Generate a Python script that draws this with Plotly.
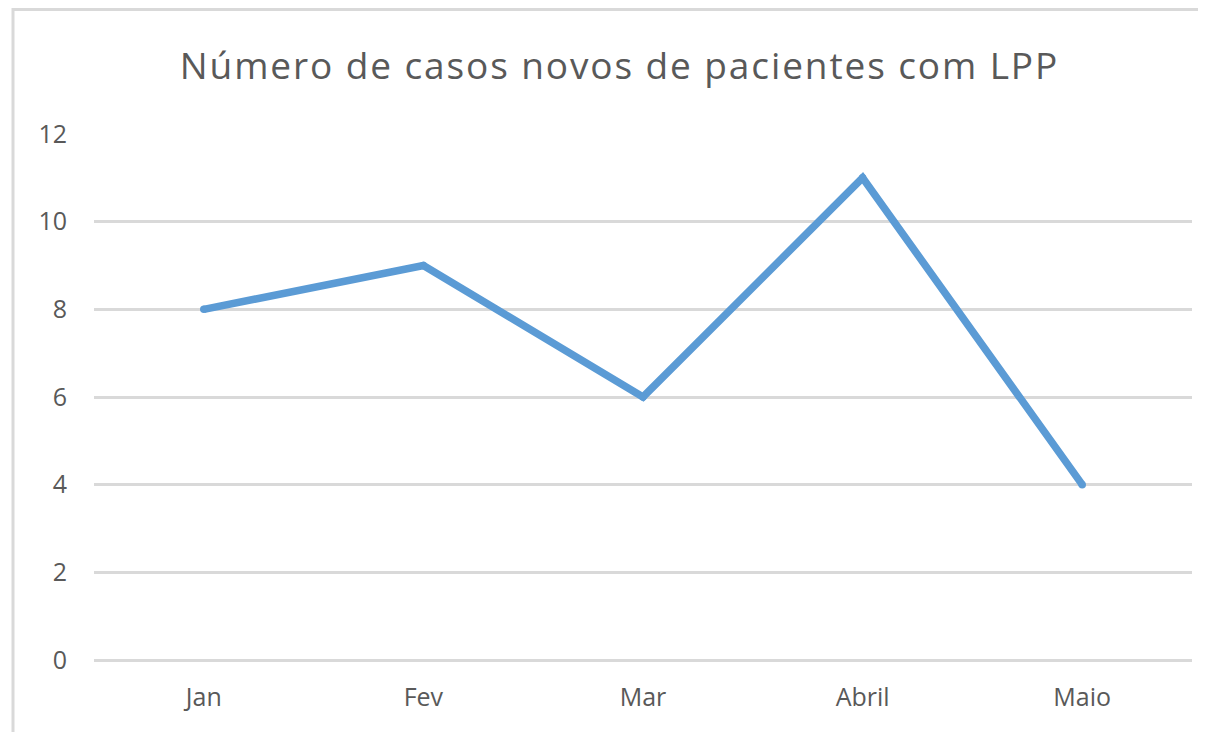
import plotly.graph_objects as go

months = ["Jan", "Fev", "Mar", "Abril", "Maio"]
cases = [8, 9, 6, 11, 4]
y_ticks = [0, 2, 4, 6, 8, 10, 12]
title_text = "Número de casos novos de pacientes com LPP"

OFF = 8  # default body margin of the page
W, H = 1206 - OFF, 732 - OFF
# target plot area in viewport pixels: x 94..1192, y 134..660
L, R, T, B = 94 - OFF, 1206 - 1192, 134 - OFF, 732 - 660
pw, ph = W - L - R, H - T - B

def px_x(p):  # viewport px -> paper x
    return (p - OFF - L) / pw

def px_y(p):  # viewport px -> paper y
    return (H - B - (p - OFF)) / ph

LINE_COLOR = "#5B9BD5"
LW = 7.5

fig = go.Figure()
fig.add_trace(go.Scatter(
    x=months, y=cases, mode="lines+markers",
    line=dict(color=LINE_COLOR, width=LW),
    marker=dict(color=LINE_COLOR, size=LW, line=dict(width=0)),
    hoverinfo="x+y",
))

font_family = "Open Sans, sans-serif"

fig.update_layout(
    width=W, height=H,
    margin=dict(l=L, r=R, t=T, b=B),
    paper_bgcolor="white", plot_bgcolor="white",
    showlegend=False,
    title=dict(text='<span style="letter-spacing:1.9px">' + title_text + '</span>',
               xref="paper", x=px_x(619.5), xanchor="center",
               yref="container", y=1 - (66 - OFF) / H, yanchor="middle",
               font=dict(family=font_family, size=37, color="#595959")),
    xaxis=dict(
        range=[-0.5, 4.5], showgrid=False, zeroline=False, showline=False,
        ticks="", tickfont=dict(family=font_family, size=25, color="#595959"),
        ticklabelstandoff=20,
    ),
    yaxis=dict(
        range=[0, 12], tickvals=y_ticks, showgrid=True, gridcolor="#d9d9d9", gridwidth=2.5,
        zeroline=True, zerolinecolor="#d9d9d9", zerolinewidth=2.5, showline=False,
        ticks="", tickfont=dict(family=font_family, size=25, color="#595959"),
        ticklabelstandoff=26,
    ),
    shapes=[dict(
        type="rect", xref="paper", yref="paper",
        x0=px_x(13), x1=px_x(1240), y0=px_y(760), y1=px_y(9.5),
        line=dict(color="#d9d9d9", width=3), fillcolor="rgba(0,0,0,0)", layer="below",
    )],
)

fig.write_html("out.html")
